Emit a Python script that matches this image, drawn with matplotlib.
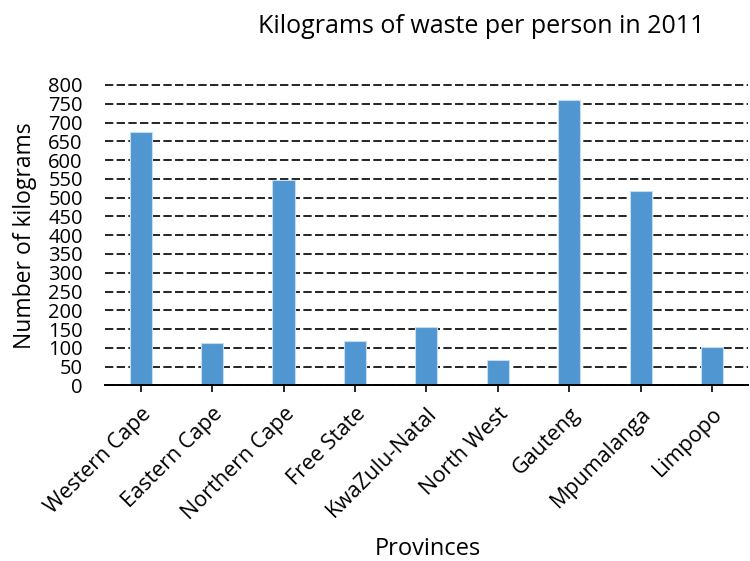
import matplotlib
matplotlib.use("Agg")
import matplotlib.pyplot as plt

plt.rcParams["font.family"] = ["Open Sans", "DejaVu Sans"]

provinces = ["Western Cape", "Eastern Cape", "Northern Cape", "Free State",
             "KwaZulu-Natal", "North West", "Gauteng", "Mpumalanga", "Limpopo"]
kg_per_person = [675, 112, 546, 118, 156, 67, 760, 517, 102]
y_ticks = list(range(0, 801, 50))

bar_color = "#5096d1"

fig = plt.figure(figsize=(7.5, 5.61), dpi=100)
ax = fig.add_axes([0.14, 0.313, 0.857, 0.5355])

ax.bar(range(len(provinces)), kg_per_person, width=0.31, color=bar_color,
       edgecolor="#c6dcef", linewidth=0.8, zorder=2)

ax.set_xlim(-0.5, len(provinces) - 0.5)
ax.set_ylim(0, 800)
ax.set_yticks(y_ticks)
ax.set_yticklabels([str(v) for v in y_ticks], fontsize=14.5)
ax.tick_params(axis="y", length=0, pad=16)

ax.set_xticks(range(len(provinces)))
ax.set_xticklabels(provinces, rotation=45, ha="right", rotation_mode="anchor",
                   fontsize=15.5)
ax.tick_params(axis="x", direction="inout", length=10, width=1.2, pad=8)

ax.yaxis.grid(True, color="black", linestyle=(0, (5, 2)), linewidth=1.2)
for gl in ax.get_ygridlines():
    gl.set_clip_on(False)
ax.set_axisbelow(True)

for side in ["top", "right", "left"]:
    ax.spines[side].set_visible(False)
ax.spines["bottom"].set_linewidth(1.4)
ax.spines["bottom"].set_zorder(3)

ax.set_ylabel("Number of kilograms", fontsize=16.5, va="center")
ax.yaxis.set_label_coords(-0.124, 0.5)
ax.set_xlabel("Provinces", fontsize=17, va="center")
ax.xaxis.set_label_coords(0.5025, -0.545)
fig.text(0.641, 0.952, "Kilograms of waste per person in 2011", fontsize=18,
         ha="center", va="center")

fig.savefig("out.png", dpi=100)
